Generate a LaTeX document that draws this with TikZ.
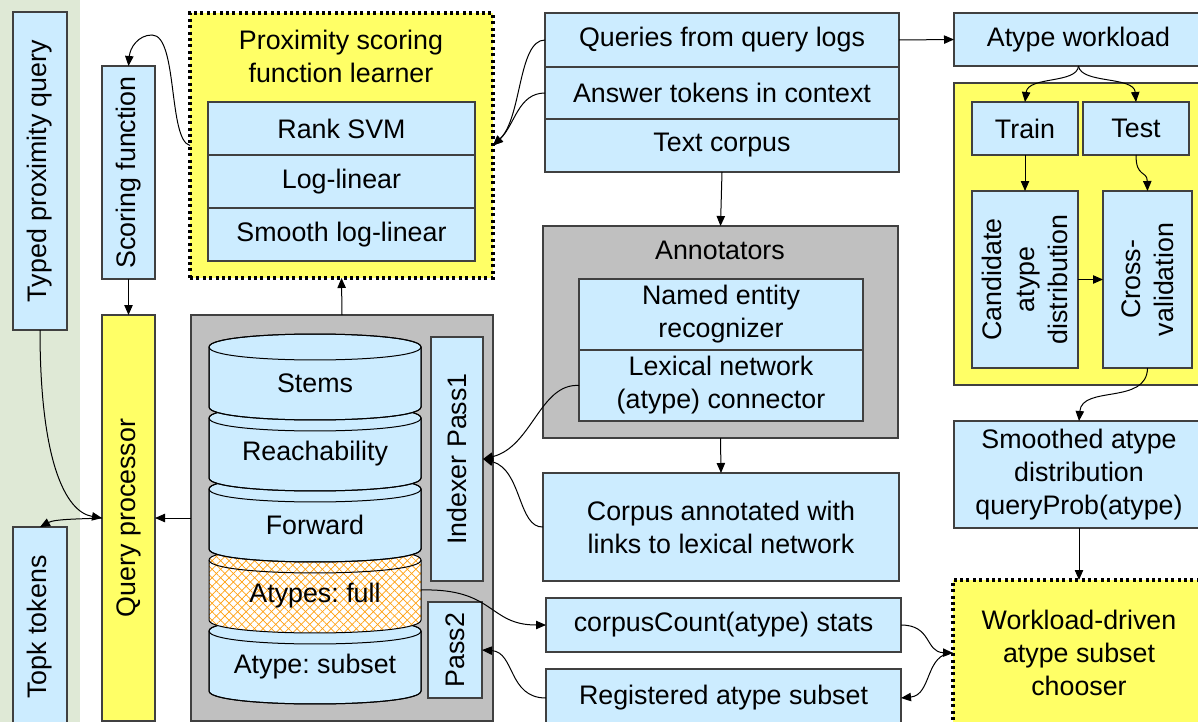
\documentclass[tikz,border=0pt]{standalone}
\usepackage{fontspec}
\setmainfont{Liberation Sans}
\frenchspacing
\usetikzlibrary{arrows.meta,patterns.meta}
\definecolor{lblue}{HTML}{CCECFF}
\definecolor{lyellow}{HTML}{FFFF66}
\definecolor{lgray}{HTML}{C0C0C0}
\definecolor{bord}{HTML}{404040}
\definecolor{leaf}{HTML}{DFE9D6}
\definecolor{hatch}{HTML}{FFA010}
\newcommand\boxfont{\fontsize{13.4pt}{16.5pt}\selectfont}
\tikzset{
  box/.style={draw=bord,line width=0.6pt,fill=lblue,font=\boxfont,align=center,inner sep=1pt,outer sep=0pt},
  ybox/.style={box,fill=lyellow},
  gbox/.style={box,fill=lgray},
  dotbox/.style={box,fill=lyellow,draw=black,line width=1.6pt,dash pattern=on 1.5pt off 1.7pt},
  conn/.style={line width=0.5pt,-{Triangle[length=5pt,width=4.2pt]}},
  lbl/.style={font=\boxfont,align=center,inner sep=0pt},
  cyl/.style={fill=lblue,draw=black,line width=0.5pt},
}
\newcommand\mkbox[7][]{%
  \pgfmathsetmacro\bxcx{(#3+#5)/2}%
  \pgfmathsetmacro\bxcy{(#4+#6)/2}%
  \pgfmathsetmacro\bxw{(#5-#3)*0.5}%
  \pgfmathsetmacro\bxh{(#6-#4)*0.5}%
  \node[box,minimum width=\bxw pt,minimum height=\bxh pt,#1] (#2) at (\bxcx,\bxcy) {#7};}
% rotated box: anchors north=page left, south=page right, east=page top, west=page bottom
\newcommand\mkrbox[7][]{%
  \pgfmathsetmacro\bxcx{(#3+#5)/2}%
  \pgfmathsetmacro\bxcy{(#4+#6)/2}%
  \pgfmathsetmacro\bxw{(#5-#3)*0.5}%
  \pgfmathsetmacro\bxh{(#6-#4)*0.5}%
  \node[box,rotate=90,minimum width=\bxh pt,minimum height=\bxw pt,#1] (#2) at (\bxcx,\bxcy) {#7};}
\newcommand\cylbody[2]{%
  \pgfmathsetmacro\cyb{#1+60}%
  \pgfmathsetmacro\cybb{#1+60+17.3}%
  \pgfmathsetmacro\cytt{#1-17.3}%
  \path[#2] (209,#1) -- (209,\cyb) .. controls (209,\cybb) and (421,\cybb) .. (421,\cyb)
     -- (421,#1) .. controls (421,\cytt) and (209,\cytt) .. cycle;}
\newcommand\cylline[1]{%
  \pgfmathsetmacro\cyb{#1+60}%
  \pgfmathsetmacro\cybb{#1+60+17.3}%
  \pgfmathsetmacro\cytt{#1-17.3}%
  \pgfmathsetmacro\cytb{#1+17.3}%
  \draw[line width=0.5pt] (209,#1) -- (209,\cyb) .. controls (209,\cybb) and (421,\cybb) .. (421,\cyb)
     -- (421,#1) .. controls (421,\cytt) and (209,\cytt) .. cycle;
  \draw[line width=0.5pt] (209,#1) .. controls (209,\cytb) and (421,\cytb) .. (421,#1);}
\begin{document}
\begin{tikzpicture}[x=0.5pt,y=-0.5pt]
\useasboundingbox (0,0) rectangle (1198,722);
\fill[leaf] (0,0) rectangle (80,722);

% left column
\mkrbox{typed}{13}{12}{67}{330}{Typed proximity query}
\mkrbox{topk}{13}{527}{67}{727}{Topk tokens}
\mkrbox{scoring}{102}{66}{155}{279}{Scoring function}
\mkrbox[fill=lyellow]{qp}{102}{315}{155}{721}{Query processor}

% learner
\mkbox[dotbox]{learner}{190}{13}{493}{278}{}
\node[lbl] (learnertitle) at (341,56) {Proximity scoring\\function learner};
\mkbox{rank}{208}{102}{475}{155}{Rank SVM}
\mkbox{loglin}{208}{155}{475}{208}{Log-linear}
\mkbox{smooth}{208}{208}{475}{261}{Smooth log-linear}

% index
\mkbox[gbox]{index}{191}{315}{493}{721}{}
\cylbody{631}{cyl}
\cylline{631}
\cylbody{560}{fill=white}
\cylbody{560}{pattern={Lines[angle=45,distance=3pt,line width=0.35pt]},pattern color=hatch}
\cylbody{560}{pattern={Lines[angle=-45,distance=3pt,line width=0.35pt]},pattern color=hatch}
\cylline{560}
\cylbody{489}{cyl}
\cylline{489}
\cylbody{418}{cyl}
\cylline{418}
\cylbody{347}{cyl}
\cylline{347}
\node[lbl] (stems) at (315,383) {Stems};
\node[lbl] (reach) at (315,454) {Reachability};
\node[lbl] (fwd) at (315,525) {Forward};
\node[lbl] (afull) at (315,596) {Atypes: full};
\node[lbl] (asub) at (315,667) {Atype: subset};
\coordinate (afullE) at (421,590);
\mkrbox{idx}{431}{337}{483}{581}{Indexer Pass1}
\mkrbox{pass2}{428}{602}{482}{698}{Pass2}

% middle column
\mkbox{q1}{545}{13}{899}{67}{Queries from query logs}
\mkbox{q2}{545}{67}{899}{119}{Answer tokens in context}
\mkbox{tc}{545}{119}{899}{172}{Text corpus}
\mkbox[gbox]{annot}{543}{226}{898}{438}{}
\node[lbl] (annottitle) at (720,250) {Annotators};
\mkbox{ner}{579}{279}{863}{350}{Named entity\\recognizer}
\mkbox{lex}{579}{350}{863}{421}{Lexical network\\(atype) connector}
\mkbox{corp}{543}{473}{899}{581}{Corpus annotated with\\links to lexical network}
\mkbox{cc}{546}{598}{901}{652}{corpusCount(atype) stats}
\mkbox{reg}{546}{669}{901}{727}{Registered atype subset}

% right column
\mkbox{workload}{954}{13}{1203}{66}{Atype workload}
\mkbox[ybox]{rpanel}{954}{83}{1204}{385}{}
\mkbox{train}{972}{102}{1078}{155}{Train}
\mkbox{test}{1083}{102}{1189}{155}{Test}
\mkrbox{cand}{972}{191}{1078}{368}{Candidate\\atype\\distribution}
\mkrbox{cv}{1103}{191}{1192}{368}{Cross-\\validation}
\mkbox{smoothed}{954}{421}{1204}{528}{Smoothed atype\\distribution\\queryProb(atype)}
\mkbox[dotbox]{chooser}{953}{580}{1205}{726}{Workload-driven\\atype subset\\chooser}

% connectors
\draw[conn] (learner.west) .. controls (168,140) and (178,35) .. (152,35) .. controls (138,35) and (130,48) .. (scoring.east);
\draw[conn] (scoring.west) -- (qp.east);
\draw[conn] (typed.west) .. controls (40,460) and (65,512) .. (qp.north);
\draw[conn] (qp.north) .. controls (80,519) and (55,519) .. (topk.east);
\draw[conn] (index.west) -- (qp.south);
\draw[conn] (index.north) -- (learner.south);
\draw[conn] (q1.west) .. controls (518,40) and (522,118) .. (learner.east);
\draw[conn] (q2.west) .. controls (518,93) and (515,125) .. (learner.east);
\draw[conn] (q1.east) -- (workload.west);
\draw[conn] (workload.south) .. controls (1077,84) and (1028,76) .. (train.north);
\draw[conn] (workload.south) .. controls (1081,84) and (1134,76) .. (test.north);
\draw[conn] (train.south) -- (cand.east);
\draw[conn] (test.south) .. controls (1136,178) and (1147,170) .. (cv.east);
\draw[conn] (cand.south) -- (cv.north);
\draw[conn] (cv.west) .. controls (1147,405) and (1082,385) .. (smoothed.north);
\draw[conn] (smoothed.south) -- (chooser.north);
\draw[conn] (tc.south) -- (annot.north);
\draw[conn] (annot.south) -- (corp.north);
\draw[conn] (lex.west) .. controls (540,383) and (532,447) .. (idx.south);
\draw[conn] (corp.west) .. controls (518,528) and (522,470) .. (idx.south);
\draw[conn] (afullE) .. controls (495,588) and (488,625) .. (cc.west);
\draw[conn] (reg.west) .. controls (508,698) and (515,652) .. (pass2.south);
\draw[conn] (cc.east) .. controls (932,625) and (925,652) .. (chooser.west);
\draw[conn] (chooser.west) .. controls (925,653) and (932,695) .. (reg.east);
\end{tikzpicture}
\end{document}
